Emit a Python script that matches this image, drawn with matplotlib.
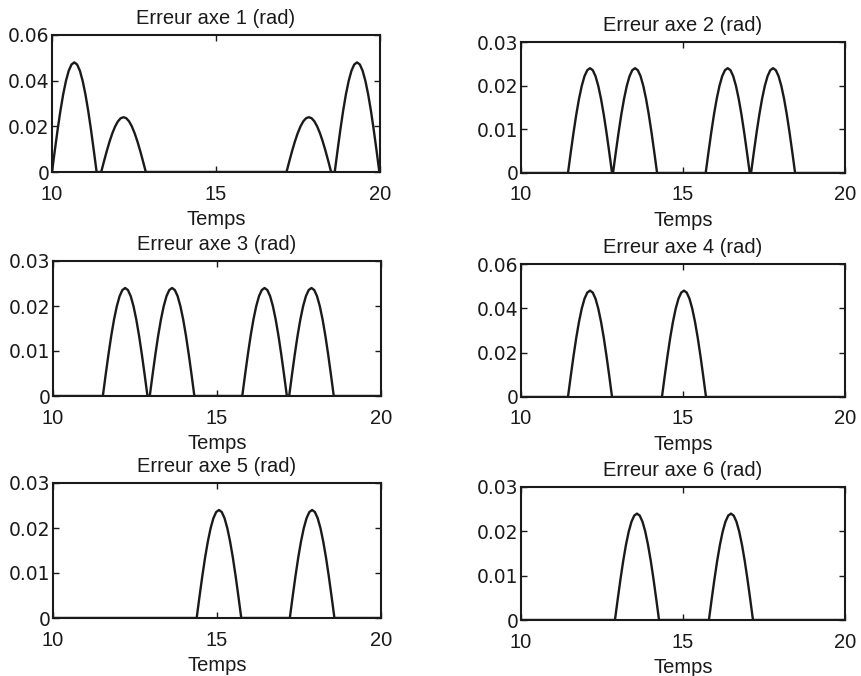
import numpy as np
import matplotlib
matplotlib.use('Agg')
import matplotlib.pyplot as plt

plt.rcParams['font.family'] = ['Liberation Sans', 'DejaVu Sans']

T_START = 10
T_END = 20
BUMP_WIDTH = 1.36

# shape of one error bump, as fraction of its width and of its peak
BUMP_X = [0, 0.0625, 0.125, 0.1875, 0.25, 0.3125, 0.375, 0.4375, 0.5,
          0.5625, 0.625, 0.6875, 0.75, 0.8125, 0.875, 0.9375, 1]
BUMP_Y = [0, 0.195, 0.383, 0.556, 0.707, 0.831, 0.924, 0.981, 1,
          0.981, 0.924, 0.831, 0.707, 0.556, 0.383, 0.195, 0]

titles = ['Erreur axe 1 (rad)', 'Erreur axe 2 (rad)', 'Erreur axe 3 (rad)',
          'Erreur axe 4 (rad)', 'Erreur axe 5 (rad)', 'Erreur axe 6 (rad)']

# start time and peak of each bump, per axis
starts_1 = [10.0, 11.5, 17.15, 18.62]
peaks_1 = [0.048, 0.024, 0.024, 0.048]
starts_2 = [11.45, 12.84, 15.7, 17.1]
peaks_2 = [0.024, 0.024, 0.024, 0.024]
starts_3 = [11.52, 12.95, 15.77, 17.2]
peaks_3 = [0.024, 0.024, 0.024, 0.024]
starts_4 = [11.45, 14.35]
peaks_4 = [0.048, 0.048]
starts_5 = [14.38, 17.22]
peaks_5 = [0.024, 0.024]
starts_6 = [12.9, 15.8]
peaks_6 = [0.024, 0.024]

y_max = [0.06, 0.03, 0.03, 0.06, 0.03, 0.03]
y_ticks = [[0, 0.02, 0.04, 0.06], [0, 0.01, 0.02, 0.03], [0, 0.01, 0.02, 0.03],
           [0, 0.02, 0.04, 0.06], [0, 0.01, 0.02, 0.03], [0, 0.01, 0.02, 0.03]]
x_ticks = [10, 15, 20]

starts = [starts_1, starts_2, starts_3, starts_4, starts_5, starts_6]
peaks = [peaks_1, peaks_2, peaks_3, peaks_4, peaks_5, peaks_6]

# axes boxes in pixels: left, top, right, bottom
boxes = [(52, 35, 380, 172), (521, 42, 845, 173),
         (53, 261, 381, 396), (521, 264, 845, 397),
         (53, 483, 381, 618), (521, 487, 845, 620)]

W, H = 861, 676
INK = '#1a1a1a'


def trace(st, pk):
    t = [T_START]
    y = [0]
    for s, p in zip(st, pk):
        t += [s + BUMP_WIDTH * bx for bx in BUMP_X]
        y += [p * by for by in BUMP_Y]
    t.append(T_END)
    y.append(0)
    return np.array(t), np.array(y)


def fmt(v):
    return '0' if v == 0 else f'{v:.2f}'


fig = plt.figure(figsize=(W / 100, H / 100), dpi=100)

for i in range(6):
    l, tp, r, b = boxes[i]
    ax = fig.add_axes([l / W, 1 - b / H, (r - l) / W, (b - tp) / H])
    t, y = trace(starts[i], peaks[i])
    ax.plot(t, y, color=INK, lw=1.7, solid_joinstyle='round')
    ax.set_xlim(T_START, T_END)
    ax.set_ylim(0, y_max[i])
    ax.set_xticks(x_ticks)
    ax.set_xticklabels([str(v) for v in x_ticks], fontsize=14.5)
    ax.set_yticks(y_ticks[i])
    ax.set_yticklabels([fmt(v) for v in y_ticks[i]], fontsize=13.5,
                       family=['DejaVu Sans'])
    ax.tick_params(direction='in', top=True, right=True, length=4, width=1,
                   colors=INK)
    ax.tick_params(axis='x', pad=9)
    ax.tick_params(axis='y', pad=2)
    for sp in ax.spines.values():
        sp.set_linewidth(1.5)
        sp.set_color(INK)
    ax.set_title(titles[i], fontsize=14.5, color=INK, pad=8)
    ax.set_xlabel('Temps', fontsize=14.5, color=INK, labelpad=5)

fig.savefig('out.png', dpi=100)
